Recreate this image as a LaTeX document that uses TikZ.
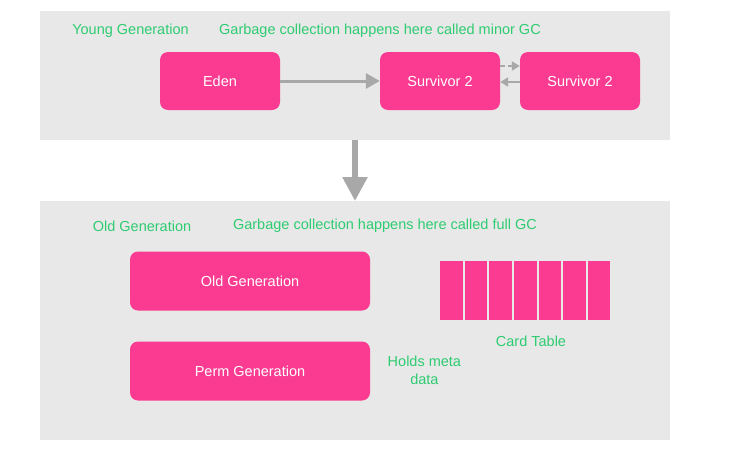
\documentclass[tikz,border=0pt]{standalone}
\usepackage{fontspec}
\setmainfont{Liberation Sans}
\usetikzlibrary{arrows.meta,positioning}
\definecolor{pinkbox}{RGB}{250,59,145}
\definecolor{panelgray}{RGB}{232,232,232}
\definecolor{arrowgray}{RGB}{168,168,168}
\definecolor{labelgreen}{RGB}{46,204,113}

\begin{document}
\begin{tikzpicture}[x=1pt,y=1pt,yscale=-1,xscale=1,
  panel/.style = {fill=panelgray, draw=none},
  block/.style = {fill=pinkbox, draw=none, rounded corners=8pt,
  text=white, font=\fontsize{14.5}{17}\selectfont, inner sep=0pt},
  card/.style = {fill=pinkbox, draw=none, minimum width=22.5pt,
  minimum height=59pt, inner sep=0pt},
  note/.style = {text=labelgreen, font=\fontsize{14.5}{18}\selectfont,
  align=center},
  flow/.style = {draw=arrowgray, line width=3pt,
  -{Triangle[length=14pt,width=15pt]}},
  swap/.style = {draw=arrowgray, line width=2.5pt,
  -{Triangle[length=8pt,width=9pt]}},
  ]
  \useasboundingbox (0,0) rectangle (733,463);

  % panels
  \node[panel, minimum width=630pt, minimum height=129pt, inner sep=0pt,
  anchor=north west] (young) at (40,11) {};
  \node[panel, minimum width=630pt, minimum height=239pt, inner sep=0pt,
  anchor=north west] (old) at (40,201) {};

  % young generation
  \node[note] (younglabel) at (130.5,31) {Young Generation};
  \node[note] (minorgc) at (380,31) {Garbage collection happens here called minor GC};
  \node[block, minimum width=120pt, minimum height=58pt] (eden) at (220,81) {Eden};
  \node[block, minimum width=120pt, minimum height=58pt] (surv1) at (440,81) {Survivor 2};
  \node[block, minimum width=120pt, minimum height=58pt] (surv2) at (580,81) {Survivor 2};

  \draw[flow] (eden) -- (surv1);
  \draw[swap, dash pattern=on 5pt off 3pt] ([yshift=-15pt]surv1.east) -- ([yshift=-15pt]surv2.west);
  \draw[swap] ([yshift=1pt]surv2.west) -- ([yshift=1pt]surv1.east);

  % promotion
  \draw[draw=arrowgray, line width=5.5pt, -{Triangle[length=24pt,width=24pt]}]
  (young.south -| 355,0) -- (old.north -| 355,0);

  % old generation
  \node[note] (oldlabel) at (142,226) {Old Generation};
  \node[note] (fullgc) at (385,226) {Garbage collection happens here called full GC};
  \node[block, minimum width=240pt, minimum height=59pt] (oldgen) at (250,281) {Old Generation};
  \node[block, minimum width=240pt, minimum height=59pt] (permgen) at (250,371) {Perm Generation};
  \node[note, right=14pt of permgen, yshift=1pt] (meta) {Holds meta\\data};

  % card table
  \foreach \i in {0,...,6}
    \node[card, anchor=north west] (card\i) at (440+24.6*\i,261) {};
  \node[note] (cardlabel) at (531,341) {Card Table};

\end{tikzpicture}
\end{document}
